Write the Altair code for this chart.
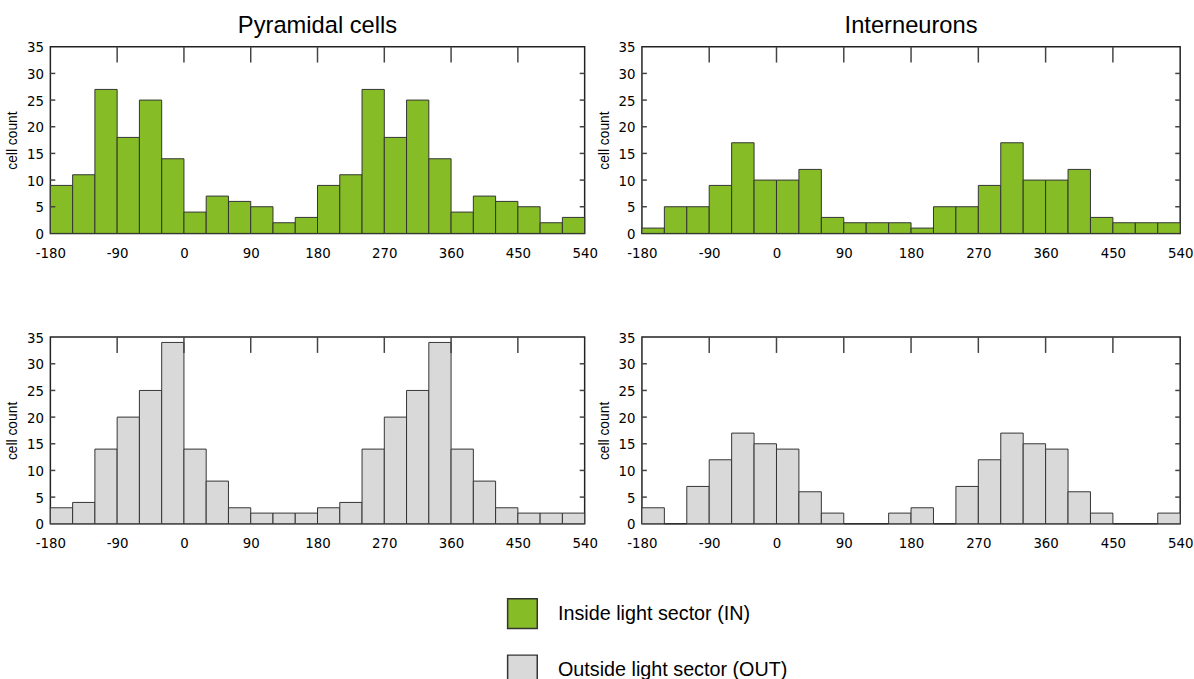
import altair as alt
import pandas as pd

# ---- data ----
bin_start = [-180, -150, -120, -90, -60, -30, 0, 30, 60, 90, 120, 150,
             180, 210, 240, 270, 300, 330, 360, 390, 420, 450, 480, 510]
bin_end = [-150, -120, -90, -60, -30, 0, 30, 60, 90, 120, 150, 180,
           210, 240, 270, 300, 330, 360, 390, 420, 450, 480, 510, 540]

pyr_in = [9, 11, 27, 18, 25, 14, 4, 7, 6, 5, 2, 3,
          9, 11, 27, 18, 25, 14, 4, 7, 6, 5, 2, 3]
pyr_out = [3, 4, 14, 20, 25, 34, 14, 8, 3, 2, 2, 2,
           3, 4, 14, 20, 25, 34, 14, 8, 3, 2, 2, 2]
int_in = [1, 5, 5, 9, 17, 10, 10, 12, 3, 2, 2, 2,
          1, 5, 5, 9, 17, 10, 10, 12, 3, 2, 2, 2]
int_out = [3, 0, 7, 12, 17, 15, 14, 6, 2, 0, 0, 2,
           3, 0, 7, 12, 17, 15, 14, 6, 2, 0, 0, 2]

x_tick_labels = [-180, -90, 0, 90, 180, 270, 360, 450, 540]
y_tick_labels = [0, 5, 10, 15, 20, 25, 30, 35]

sectors = ["Inside light sector (IN)", "Outside light sector (OUT)"]
sector_colors = ["#86bc25", "#d9d9d9"]

titles = ["Pyramidal cells", "Interneurons"]

NARROW = "Liberation Sans Narrow, DejaVu Sans Condensed, Liberation Sans"
SANS = "Liberation Sans, Arial, Helvetica"

H = 189
W_LEFT = 541
W_RIGHT = 545

inner_x = [v for v in x_tick_labels if v not in (x_tick_labels[0], x_tick_labels[-1])]
inner_y = [v for v in y_tick_labels if v not in (y_tick_labels[0], y_tick_labels[-1])]

color_enc = alt.Color(
    "sector:N",
    scale=alt.Scale(domain=sectors, range=sector_colors),
    legend=alt.Legend(
        orient="none", legendX=462, legendY=558, title=None,
        symbolType="square", symbolSize=900, symbolStrokeColor="#333",
        symbolStrokeWidth=1.5, labelFontSize=20, labelFont=SANS,
        labelColor="#000", labelOffset=20, rowPadding=21, padding=0,
        labelLimit=400,
    ),
)

xs = alt.Scale(domain=[x_tick_labels[0], x_tick_labels[-1]], nice=False, zero=False)
ys = alt.Scale(domain=[y_tick_labels[0], y_tick_labels[-1]], nice=False)

x_axis = alt.Axis(values=x_tick_labels, ticks=False, domain=False,
                  grid=False, title=None, labelPadding=12,
                  labelFont=NARROW, labelFontSize=15,
                  labelColor="#000", labelFlush=False,
                  labelOverlap=False,
                  labelExpr="toString(datum.value)")
y_axis = alt.Axis(values=y_tick_labels, ticks=False, domain=False,
                  grid=False, title="cell count", labelPadding=7,
                  labelFont=NARROW, labelFontSize=15,
                  labelColor="#000", labelOverlap=False,
                  labelFlush=False, labelBound=False,
                  titleFont=SANS,
                  titleFontSize=14, titleFontWeight="normal",
                  titleColor="#000", titlePadding=7)


def panel(counts, sector, width, title=None):
    df = pd.DataFrame({"start": bin_start, "end": bin_end,
                       "count": counts, "base": [0] * len(counts),
                       "sector": sector})
    bars = alt.Chart(df).mark_bar(stroke="#333", strokeWidth=1).encode(
        x=alt.X("start:Q", scale=xs, axis=x_axis),
        x2="end:Q",
        y=alt.Y("count:Q", scale=ys, axis=y_axis),
        y2="base:Q",
        color=color_enc,
    )
    tx = pd.DataFrame({"start": inner_x})
    ty = pd.DataFrame({"count": inner_y})
    top_ticks = alt.Chart(tx).mark_rule(color="#444", strokeWidth=1.5).encode(
        x=alt.X("start:Q", scale=xs, axis=x_axis), y=alt.value(0), y2=alt.value(16))
    left_ticks = alt.Chart(ty).mark_rule(color="#444", strokeWidth=1.5).encode(
        y=alt.Y("count:Q", scale=ys, axis=y_axis), x=alt.value(0), x2=alt.value(5))
    right_ticks = alt.Chart(ty).mark_rule(color="#444", strokeWidth=1.5).encode(
        y=alt.Y("count:Q", scale=ys, axis=y_axis), x=alt.value(width - 5), x2=alt.value(width))
    props = dict(width=width, height=H)
    if title:
        props["title"] = alt.TitleParams(title, fontSize=24, font=SANS,
                                         fontWeight="normal", color="#000",
                                         offset=2, anchor="middle")
    return alt.layer(bars, top_ticks, left_ticks, right_ticks).properties(**props)


p1 = panel(pyr_in, sectors[0], W_LEFT, titles[0])
p2 = panel(int_in, sectors[0], W_RIGHT, titles[1])
p3 = panel(pyr_out, sectors[1], W_LEFT)
p4 = panel(int_out, sectors[1], W_RIGHT)

chart = alt.concat(
    p1, p2, p3, p4, columns=2,
    spacing=alt.RowColnumber(row=105, column=58), bounds="flush",
).resolve_scale(color="shared").configure_view(
    stroke="#222", strokeWidth=1.5
).properties(
    background="white", padding={"left": 5, "top": 9, "right": 0, "bottom": 0}
)

chart.save("out.html", embed_options={"renderer": "svg", "actions": False})
